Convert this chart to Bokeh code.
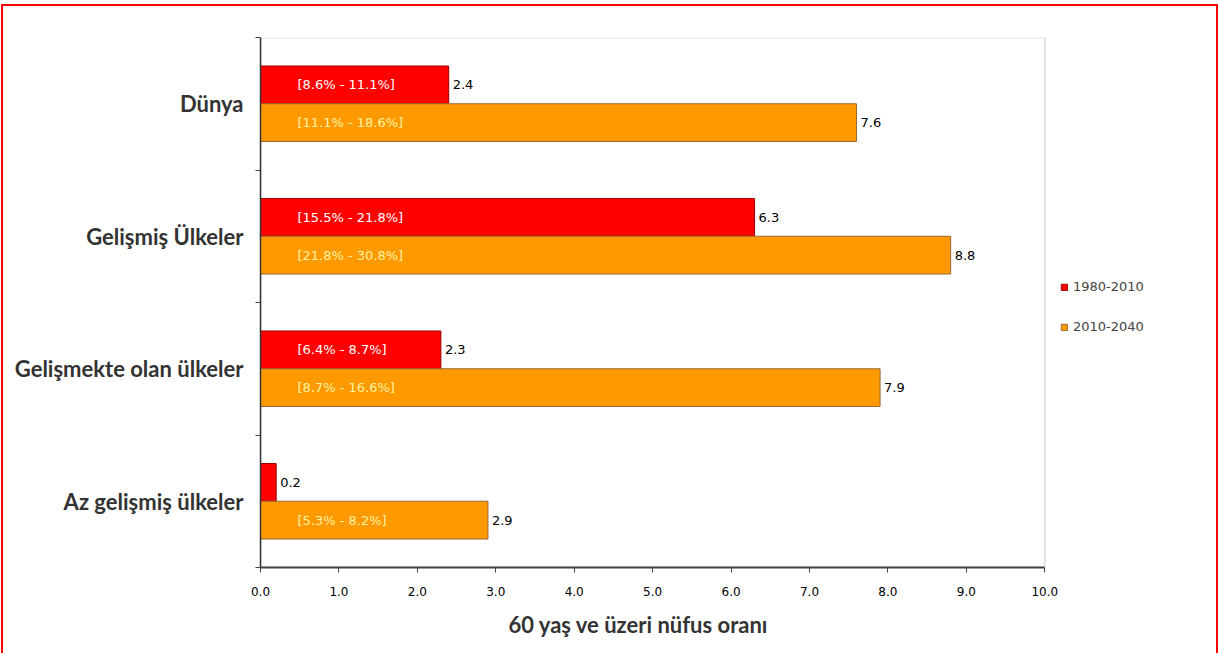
from bokeh.plotting import figure
from bokeh.models import (ColumnDataSource, Range1d, FixedTicker, NumeralTickFormatter,
                          Legend, LegendItem, LabelSet, BoxAnnotation, Title)
from bokeh.core.properties import value
from bokeh.transform import dodge
from bokeh.embed import file_html
from bokeh.resources import INLINE

# ---- data ----
categories = ["Dünya", "Gelişmiş Ülkeler", "Gelişmekte olan ülkeler", "Az gelişmiş ülkeler"]
series_names = ["1980-2010", "2010-2040"]
values_1980 = [2.4, 6.3, 2.3, 0.2]
values_2010 = [7.6, 8.8, 7.9, 2.9]
ranges_1980 = ["[8.6% - 11.1%]", "[15.5% - 21.8%]", "[6.4% - 8.7%]", ""]
ranges_2010 = ["[11.1% - 18.6%]", "[21.8% - 30.8%]", "[8.7% - 16.6%]", "[5.3% - 8.2%]"]
x_ticks = [0, 1, 2, 3, 4, 5, 6, 7, 8, 9, 10]
x_max = 10
x_title = "60 yaş ve üzeri nüfus oranı"

n = len(categories)
ypos = [n - 1 - i + 0.5 for i in range(n)]  # first category at top

src = ColumnDataSource(dict(
    y=ypos, cat=categories,
    v1=values_1980, v2=values_2010,
    r1=ranges_1980, r2=ranges_2010,
    l1=[f"{v:.1f}" for v in values_1980],
    l2=[f"{v:.1f}" for v in values_2010],
    zero=[0] * n,
))

# layout geometry (pixels)
CW, CH = 1217, 660
ML, MR, MT, MB = 257, 0, 31, 99
frame_w = (CW - 4) - ML - MR
axis_px = 781  # pixel length of 0..10 on the x axis
x_end = x_max * frame_w / axis_px

p = figure(width=CW, height=CH, x_range=Range1d(0, x_end), y_range=Range1d(0, n),
           output_backend="svg", toolbar_location=None,
           min_border_left=ML, min_border_right=MR, min_border_top=MT, min_border_bottom=MB,
           background_fill_color="white", border_fill_color="white",
           styles={"border": "2px solid #FF0000", "margin-left": "1px", "margin-top": "4px"})

p.xgrid.visible = False
p.ygrid.visible = False
p.outline_line_color = None

# plot-area frame (grey top/right edges) limited to 0..10
p.add_layout(BoxAnnotation(left=0, right=x_max, bottom=0, top=n, fill_alpha=0,
                           line_color="#A0A0A0", line_width=2, level="underlay"))

H = 0.285
r1 = p.hbar(y=dodge("y", 0.1425), right="v1", left=0, height=H, source=src,
            fill_color="#FF0000", line_color="#990000", line_width=1)
r2 = p.hbar(y=dodge("y", -0.1425), right="v2", left=0, height=H, source=src,
            fill_color="#FF9900", line_color="#996633", line_width=1)

font = "DejaVu Sans"
label_font = "Lato"
common = dict(source=src, text_baseline="middle", text_font_size=value("13px"),
              text_font=value(font))
p.add_layout(LabelSet(x="v1", y=dodge("y", 0.1425), text="l1", x_offset=4,
                      text_color="black", **common))
p.add_layout(LabelSet(x="v2", y=dodge("y", -0.1425), text="l2", x_offset=4,
                      text_color="black", **common))
p.add_layout(LabelSet(x="zero", y=dodge("y", 0.1425), text="r1", x_offset=37,
                      text_color="white", **common))
p.add_layout(LabelSet(x="zero", y=dodge("y", -0.1425), text="r2", x_offset=37,
                      text_color="#FFF3A0", **common))

# x axis
xa = p.xaxis[0]
xa.bounds = (0, x_max)
xa.ticker = FixedTicker(ticks=x_ticks)
xa.formatter = NumeralTickFormatter(format="0.0")
xa.axis_line_color = "#444444"
xa.axis_line_width = 2
xa.major_tick_line_color = "#444444"
xa.major_tick_out = 5
xa.major_tick_in = 0
xa.minor_tick_line_color = None
xa.major_label_text_font = font
xa.major_label_text_font_size = "12px"
xa.major_label_text_color = "black"
xa.major_label_standoff = 14

# x-axis title, centred under the 0..10 span
p.add_layout(Title(text=x_title, align="left", offset=248, standoff=21,
                   text_font=label_font, text_font_size="22px",
                   text_font_style="bold", text_color="#333333"), "below")

# y axis: category labels at band centres, ticks at band boundaries
ya = p.yaxis[0]
ya.ticker = FixedTicker(ticks=ypos, minor_ticks=list(range(n + 1)))
ya.major_label_overrides = {y: c for y, c in zip(ypos, categories)}
ya.major_tick_line_color = None
ya.major_tick_out = 0
ya.minor_tick_line_color = "#444444"
ya.minor_tick_out = 5
ya.minor_tick_in = 0
ya.axis_line_color = "#333333"
ya.axis_line_width = 1.5
ya.major_label_text_font = label_font
ya.major_label_text_font_size = "22px"
ya.major_label_text_font_style = "bold"
ya.major_label_text_color = "#333333"
ya.major_label_standoff = 12

legend = Legend(items=[LegendItem(label=series_names[0], renderers=[r1]),
                       LegendItem(label=series_names[1], renderers=[r2])],
                location=(800, 233), orientation="vertical",
                glyph_width=8, glyph_height=8, label_height=13, label_standoff=5,
                spacing=25, padding=0, margin=0,
                label_text_font=font, label_text_font_size="13px",
                border_line_color=None, background_fill_alpha=0)
p.add_layout(legend, "center")

open("out.html", "w").write(file_html(p, INLINE))
